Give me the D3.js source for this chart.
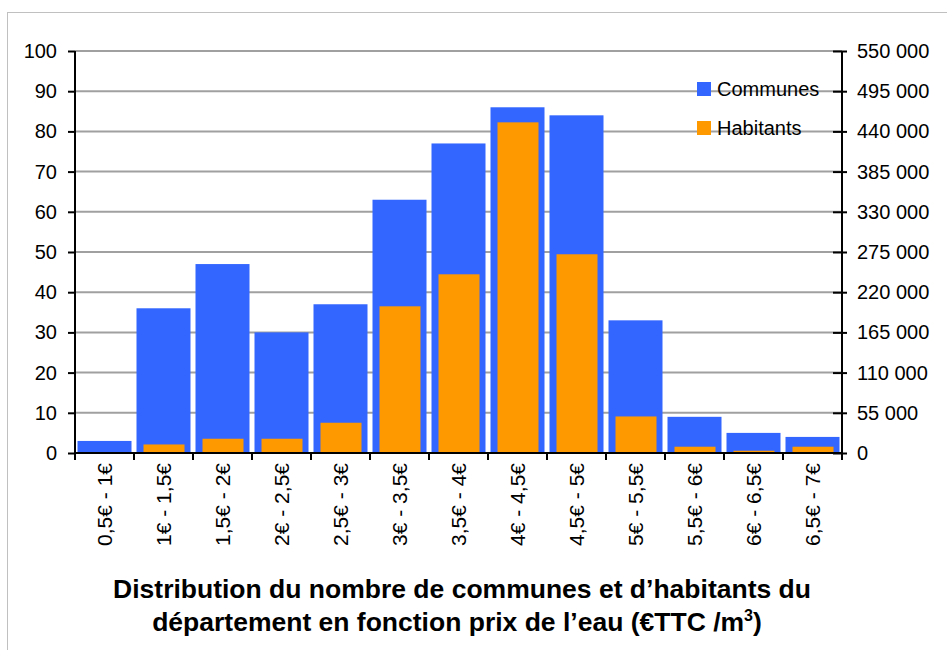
<!DOCTYPE html>
<html>
<head>
<meta charset="utf-8">
<script src="https://cdn.jsdelivr.net/npm/d3@7"></script>
<style>
  body { margin: 0; background: #fff; }
  svg { font-family: "Liberation Sans", Arial, sans-serif; }
  .grid line { stroke: #a0a0a0; stroke-width: 2; }
  .axis path, .axis line { stroke: #000; stroke-width: 2; }
</style>
</head>
<body>
<div id="chart"></div>
<script>
  // Tranches de prix de l'eau (€TTC / m3)
  var categories = ['0,5€ - 1€', '1€ - 1,5€', '1,5€ - 2€', '2€ - 2,5€', '2,5€ - 3€',
                    '3€ - 3,5€', '3,5€ - 4€', '4€ - 4,5€', '4,5€ - 5€', '5€ - 5,5€',
                    '5,5€ - 6€', '6€ - 6,5€', '6,5€ - 7€'];
  var communes = [3, 36, 47, 30, 37, 63, 77, 86, 84, 33, 9, 5, 4];
  var habitants = [0, 11700, 19500, 19500, 41400, 200700, 244500, 452400, 271900, 50000, 8600, 3100, 8600];
  var leftTicks = [0, 10, 20, 30, 40, 50, 60, 70, 80, 90, 100];
  var rightTicks = [0, 55000, 110000, 165000, 220000, 275000, 330000, 385000, 440000, 495000, 550000];
  var seriesNames = ['Communes', 'Habitants'];
  var colors = ['#3366ff', '#ff9900'];

  function translate(x, y) {
    return 'translate(' + x + ',' + y + ')';
  }

  var W = 947, H = 650,
      margin = { top: 51, left: 75, right: 105, bottom: 197 },
      width = W - margin.left - margin.right,
      height = H - margin.top - margin.bottom;

  var x = d3.scaleBand().domain(categories).range([0, width]),
      yL = d3.scaleLinear().domain([0, 100]).range([height, 0]),
      yR = d3.scaleLinear().domain([0, 550000]).range([height, 0]);

  var svg = d3.select('#chart').append('svg')
      .attr('width', W)
      .attr('height', H);

  // cadre
  svg.append('rect')
      .attr('x', 7.5).attr('y', 12.5)
      .attr('width', W + 10).attr('height', H + 10)
      .attr('fill', 'none')
      .attr('stroke', '#c0c0c0');

  var g = svg.append('g').attr('transform', translate(margin.left, margin.top));

  g.append('g')
      .attr('class', 'grid')
    .selectAll('line')
    .data(leftTicks.slice(1))
    .enter().append('line')
      .attr('x1', 0).attr('x2', width)
      .attr('y1', function(d) { return yL(d); })
      .attr('y2', function(d) { return yL(d); });

  var bw = x.bandwidth();

  g.selectAll('.communes')
    .data(communes)
    .enter().append('rect')
      .attr('class', 'communes')
      .attr('x', function(d, i) { return x(categories[i]) + 2.5; })
      .attr('width', bw - 5)
      .attr('y', function(d) { return yL(d); })
      .attr('height', function(d) { return height - yL(d); })
      .attr('fill', colors[0]);

  g.selectAll('.habitants')
    .data(habitants)
    .enter().append('rect')
      .attr('class', 'habitants')
      .attr('x', function(d, i) { return x(categories[i]) + (bw - 41) / 2 + 0.5; })
      .attr('width', 41)
      .attr('y', function(d) { return yR(d); })
      .attr('height', function(d) { return height - yR(d); })
      .attr('fill', colors[1]);

  // axes
  var yAxisL = d3.axisLeft(yL).tickValues(leftTicks).tickSize(7).tickPadding(11);
  var yAxisR = d3.axisRight(yR).tickValues(rightTicks).tickSize(5).tickPadding(10)
      .tickFormat(function(d) { return d3.format(',')(d).replace(/,/g, ' '); });

  var gl = g.append('g').attr('class', 'axis').call(yAxisL);
  gl.select('.domain').attr('d', 'M0,' + height + 'V0');

  var gr = g.append('g').attr('class', 'axis')
      .attr('transform', translate(width, 0))
      .call(yAxisR);
  gr.select('.domain').attr('d', 'M0,' + height + 'V0');
  gr.selectAll('.tick line').attr('x1', -9);

  svg.selectAll('.axis')
      .attr('font-size', 20)
      .attr('font-family', '"Liberation Sans", Arial, sans-serif');

  var gx = g.append('g').attr('class', 'axis')
      .attr('transform', translate(0, height));
  gx.append('line').attr('x1', 0).attr('x2', width).attr('y1', 0).attr('y2', 0);
  gx.selectAll('.xtick')
    .data(d3.range(categories.length + 1))
    .enter().append('line')
      .attr('x1', function(i) { return i * bw; })
      .attr('x2', function(i) { return i * bw; })
      .attr('y1', 0).attr('y2', 7);
  gx.selectAll('.xlabel')
    .data(categories)
    .enter().append('text')
      .attr('transform', function(d) {
        return translate(x(d) + bw / 2 + 7, 10) + ' rotate(-90)';
      })
      .attr('text-anchor', 'end')
      .style('font-size', '21px')
      .text(function(d) { return d; });

  // légende
  var leg = svg.append('g').attr('transform', translate(697, 82));
  seriesNames.forEach(function(name, i) {
    leg.append('rect')
        .attr('x', 0).attr('y', i * 39)
        .attr('width', 14).attr('height', 14)
        .attr('fill', colors[i]);
    leg.append('text')
        .attr('x', 20).attr('y', i * 39 + 14)
        .style('font-size', '20px')
        .text(name);
  });

  // titre
  var title = svg.append('text')
      .attr('text-anchor', 'middle')
      .style('font-size', '26.5px')
      .style('font-weight', 'bold');
  title.append('tspan').attr('x', 462).attr('y', 598)
      .text('Distribution du nombre de communes et d’habitants du');
  var l2 = title.append('tspan').attr('x', 457).attr('y', 631);
  l2.append('tspan').text('département en fonction prix de l’eau (€TTC /m');
  l2.append('tspan').attr('dy', -10).style('font-size', '16px').text('3');
  l2.append('tspan').attr('dy', 10).text(')');
</script>
</body>
</html>
